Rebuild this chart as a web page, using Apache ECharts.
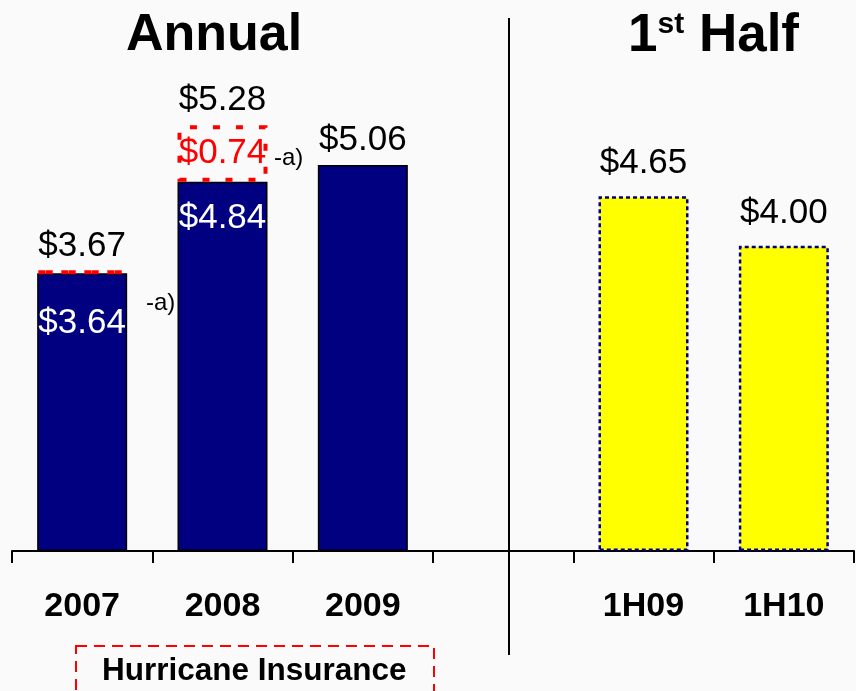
<!DOCTYPE html>
<html>
<head>
<meta charset="utf-8">
<script src="https://cdn.jsdelivr.net/npm/echarts@6/dist/echarts.min.js"></script>
<style>
  html, body { margin: 0; padding: 0; background: #fafafa; }
  #chart { width: 856px; height: 691px; }
</style>
</head>
<body>
<div id="chart"></div>
<script>
var categories = ['2007', '2008', '2009', '', '1H09', '1H10'];
var baseValues = [3.64, 4.84, 5.06, null, null, null];
var hurricaneValues = [0.03, 0.74, null, null, null, null];
var halfValues = [null, null, null, null, 4.65, 4.00];
var annualTotals = [3.67, 5.28, 5.06, null, null, null];

var FONT = "'Liberation Sans', Arial, sans-serif";

function money(v) { return '$' + v.toFixed(2); }

// white labels inside the blue bars only where a hurricane piece sits on top
var insideDistance = [33, 19];
var baseData = baseValues.map(function (v, i) {
	if (v == null) return '-';
	if (hurricaneValues[i] == null) return v;
	return {
		value: v,
		label: { show: true, position: 'insideTop', distance: insideDistance[i] || 20 }
	};
});

var hurricaneData = hurricaneValues.map(function (v) {
	if (v == null) return '-';
	return { value: v, label: { show: v >= 0.1 } };
});

// invisible bar up to the top of each annual stack, carries the total label
var stackTops = baseValues.map(function (v, i) {
	if (v == null) return '-';
	return v + (hurricaneValues[i] || 0);
});

var chart = echarts.init(document.getElementById('chart'));
var option = {
	backgroundColor: '#fafafa',
	animation: false,
	grid: { left: 12, right: 2, top: 17, bottom: 140 },
	xAxis: {
		type: 'category',
		data: categories,
		axisLine: { lineStyle: { color: '#000', width: 2 } },
		axisTick: { show: true, length: 12, lineStyle: { color: '#000', width: 2 } },
		axisLabel: { fontFamily: FONT, fontSize: 34, fontWeight: 'bold', color: '#000', margin: 39 }
	},
	yAxis: {
		type: 'value', min: 0, max: 7, show: false,
		splitLine: { show: false }
	},
	series: [
		{
			name: 'base', type: 'bar', stack: 'a', barWidth: 90, barGap: '-100%',
			data: baseData,
			itemStyle: { color: '#000080', borderColor: '#000', borderWidth: 1.5 },
			label: {
				show: false, color: '#fff', fontFamily: FONT, fontSize: 35,
				formatter: function (p) { return money(p.value); }
			}
		},
		{
			name: 'hurricane', type: 'bar', stack: 'a', barWidth: 90,
			data: hurricaneData,
			itemStyle: {
				color: 'rgba(0,0,0,0)', borderColor: '#ff0000', borderWidth: 4,
				borderType: [7, 16]
			},
			label: {
				position: 'inside', color: '#ff0000', fontFamily: FONT, fontSize: 35,
				formatter: function (p) { return money(p.value); }
			}
		},
		{
			name: 'half', type: 'bar', stack: 'a', barWidth: 88,
			data: halfValues.map(function (v) { return v == null ? '-' : v; }),
			itemStyle: {
				color: '#ffff00', borderColor: '#000080', borderWidth: 2.5,
				borderType: [4, 3]
			},
			label: {
				show: true, position: 'top', distance: 15, color: '#000',
				fontFamily: FONT, fontSize: 35,
				formatter: function (p) { return money(p.value); }
			}
		},
		{
			name: 'total', type: 'bar', barWidth: 90, barGap: '-100%', z: 1,
			data: stackTops,
			itemStyle: { color: 'rgba(0,0,0,0)' },
			label: {
				show: true, position: 'top', distance: 7, color: '#000',
				fontFamily: FONT, fontSize: 35,
				formatter: function (p) { return money(annualTotals[p.dataIndex]); }
			}
		}
	],
	graphic: [
		{
			type: 'text', left: 126, top: 10,
			style: { text: 'Annual', font: 'bold 52px ' + FONT, fill: '#000' }
		},
		{
			type: 'text', left: 628, top: 10,
			style: {
				text: '{n|1}{s|st}{n| Half}',
				fill: '#000',
				rich: {
					n: { font: 'bold 53px ' + FONT, fill: '#000', verticalAlign: 'bottom' },
					s: { font: 'bold 30px ' + FONT, fill: '#000', verticalAlign: 'top', padding: [0, 0, 22, 0] }
				}
			}
		},
		{
			type: 'line', shape: { x1: 509, y1: 18, x2: 509, y2: 655 },
			style: { stroke: '#000', lineWidth: 2 }
		},
		{
			type: 'text', left: 274, top: 146,
			style: { text: '-a)', font: '24px ' + FONT, fill: '#000' }
		},
		{
			type: 'text', left: 146, top: 291,
			style: { text: '-a)', font: '24px ' + FONT, fill: '#000' }
		},
		{
			type: 'rect', shape: { x: 76, y: 646, width: 358, height: 60 },
			style: { fill: 'none', stroke: '#ff0000', lineWidth: 2, lineDash: [11, 7] }
		},
		{
			type: 'text', left: 102, top: 655,
			style: { text: 'Hurricane Insurance', font: 'bold 31.5px ' + FONT, fill: '#000' }
		}
	]
};
chart.setOption(option);
</script>
</body>
</html>
